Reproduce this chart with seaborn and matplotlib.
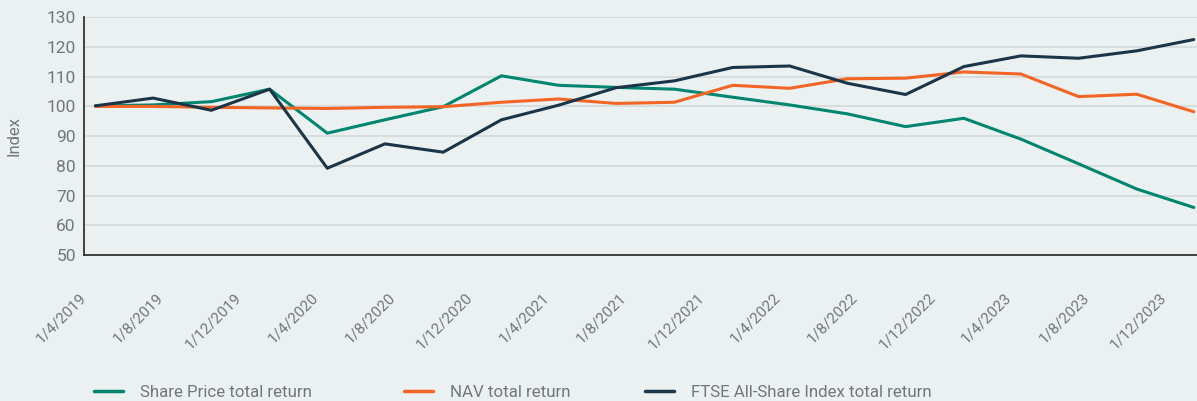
import pandas as pd
import matplotlib.pyplot as plt
import seaborn as sns

dates = ['2019-04-19', '2019-07-19', '2019-10-19', '2020-01-19', '2020-04-19',
         '2020-07-19', '2020-10-19', '2021-01-19', '2021-04-19', '2021-07-19',
         '2021-10-19', '2022-01-19', '2022-04-19', '2022-07-19', '2022-10-19',
         '2023-01-19', '2023-04-19', '2023-07-19', '2023-10-19', '2024-01-17']
share_price = [100.2, 100.5, 101.6, 105.8, 91.0, 95.5, 99.9, 110.3, 107.1, 106.4,
               105.8, 103.1, 100.5, 97.5, 93.2, 96.0, 89.0, 80.7, 72.2, 66.0]
nav = [100.0, 100.0, 99.7, 99.5, 99.3, 99.7, 99.9, 101.4, 102.5, 101.0,
       101.4, 107.1, 106.1, 109.3, 109.5, 111.6, 110.9, 103.3, 104.1, 98.2]
ftse = [100.2, 102.8, 98.7, 105.8, 79.2, 87.4, 84.6, 95.5, 100.4, 106.3,
        108.6, 113.1, 113.6, 107.8, 104.0, 113.4, 117.0, 116.2, 118.7, 122.5]
series_names = ['Share Price total return', 'NAV total return',
                'FTSE All-Share Index total return']
tick_dates = ['2019-04-01', '2019-08-01', '2019-12-01', '2020-04-01', '2020-08-01',
              '2020-12-01', '2021-04-01', '2021-08-01', '2021-12-01', '2022-04-01',
              '2022-08-01', '2022-12-01', '2023-04-01', '2023-08-01', '2023-12-01']
tick_labels = ['1/4/2019', '1/8/2019', '1/12/2019', '1/4/2020', '1/8/2020',
               '1/12/2020', '1/4/2021', '1/8/2021', '1/12/2021', '1/4/2022',
               '1/8/2022', '1/12/2022', '1/4/2023', '1/8/2023', '1/12/2023']
colors = ['#00856f', '#f26524', '#1b3548']

df = pd.DataFrame({'date': pd.to_datetime(dates),
                   series_names[0]: share_price,
                   series_names[1]: nav,
                   series_names[2]: ftse})
long = df.melt(id_vars='date', var_name='series', value_name='value')

bg = '#ebf0f0'
grey = '#737777'
sns.set_style('white')
plt.rcParams['font.family'] = ['Roboto', 'DejaVu Sans']

fig = plt.figure(figsize=(11.97, 4.01), dpi=100, facecolor=bg)
ax = fig.add_axes([0.0702, 0.364, 0.9298, 0.593])
ax.set_facecolor(bg)

sns.lineplot(data=long, x='date', y='value', hue='series', hue_order=series_names,
             palette=colors, linewidth=2.2, ax=ax, legend=False)

ax.set_ylim(50, 130)
ax.set_yticks(range(50, 131, 10))
ax.set_xlim(pd.Timestamp('2019-04-01'), pd.Timestamp('2024-01-22'))
ax.set_xticks(pd.to_datetime(tick_dates))
ax.set_xticklabels(tick_labels, rotation=45, ha='right', va='center',
                   rotation_mode='anchor', fontsize=11, color=grey)
for lab in ax.get_yticklabels():
    lab.set_fontsize(12.5)
    lab.set_color(grey)

ax.grid(axis='y', color='#d3d8d8', linewidth=1.2)
ax.set_axisbelow(True)
ax.tick_params(axis='x', direction='out', length=7, width=1.3, color='#333333', pad=22)
ax.tick_params(axis='y', length=0, pad=6)
for side in ['top', 'right']:
    ax.spines[side].set_visible(False)
for side in ['left', 'bottom']:
    ax.spines[side].set_color('#333333')
    ax.spines[side].set_linewidth(1.3)

ax.set_xlabel('')
ax.set_ylabel('Index', fontsize=12, color=grey, labelpad=18)

# one legend entry per series, placed where the reference has them
for name, c, x0 in zip(series_names, colors, [94, 404, 645]):
    leg = fig.legend([plt.Line2D([0], [0], color=c, linewidth=2.5)], [name],
                     loc='center left', bbox_to_anchor=(x0 / 1197, 0.022),
                     frameon=False, borderpad=0, borderaxespad=0,
                     handlelength=1.72, handletextpad=1.0, prop={'size': 12.2})
    leg.get_texts()[0].set_color(grey)

fig.savefig('out.png', dpi=100, facecolor=bg)
